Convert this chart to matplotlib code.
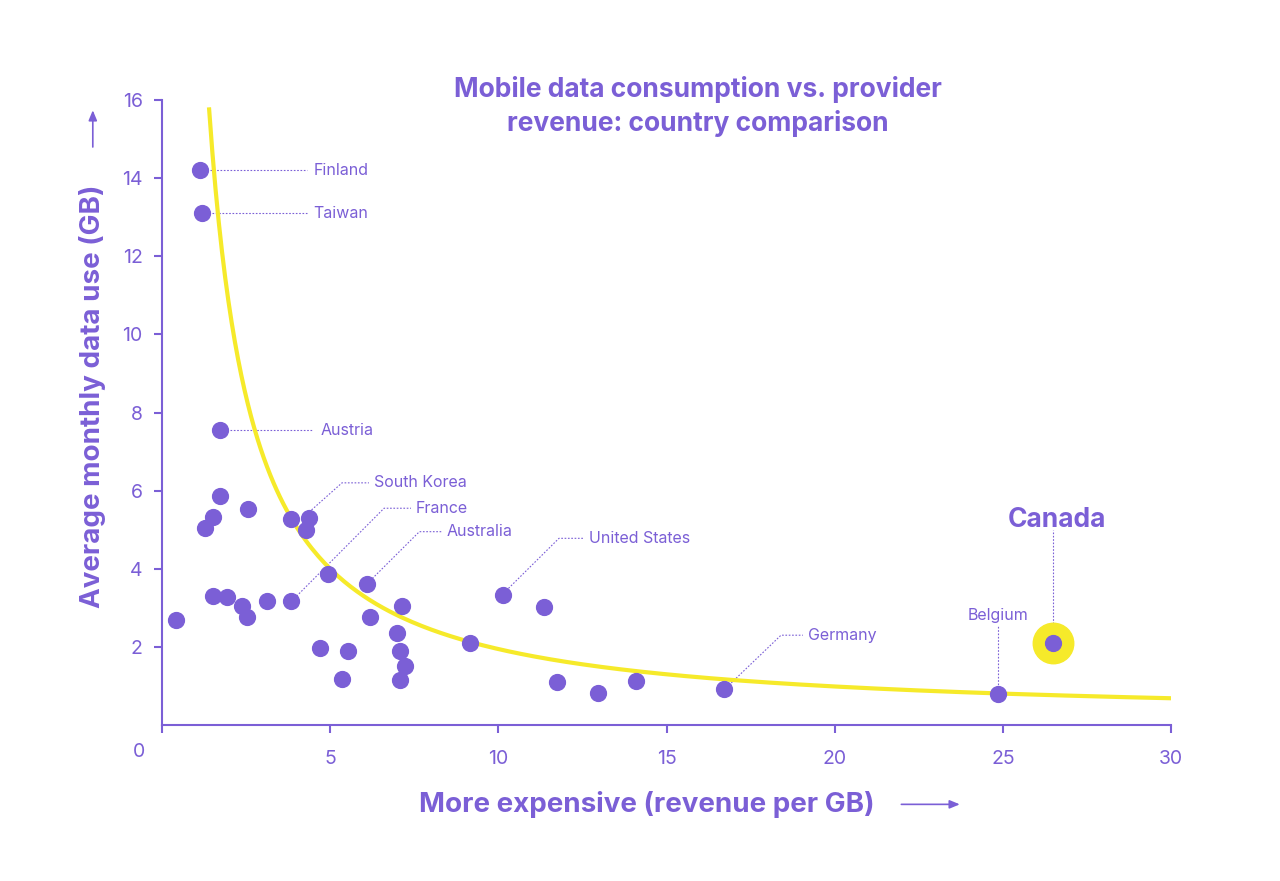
import matplotlib
matplotlib.use("Agg")
import matplotlib.pyplot as plt
import numpy as np

PURPLE = "#7b5fd6"
YELLOW = "#f6ea2a"
plt.rcParams["font.family"] = ["Inter", "DejaVu Sans"]

# revenue per GB vs average monthly GB
rev = [1.13, 1.19, 1.72, 0.42, 1.72, 1.52, 1.28, 2.56, 3.84, 4.37, 4.28, 4.94, 3.84,
       6.10, 1.52, 1.93, 3.12, 2.38, 2.53, 6.19, 7.14, 6.99, 7.08, 7.23, 7.08, 5.35,
       4.70, 5.53, 9.16, 10.14, 11.36, 11.75, 12.96, 14.09, 16.71, 24.86]
gb = [14.2, 13.1, 7.55, 2.69, 5.86, 5.33, 5.04, 5.53, 5.27, 5.30, 4.99, 3.87, 3.17,
      3.61, 3.30, 3.28, 3.17, 3.05, 2.76, 2.76, 3.05, 2.36, 1.89, 1.51, 1.15, 1.18,
      1.97, 1.89, 2.10, 3.33, 3.02, 1.10, 0.82, 1.13, 0.92, 0.79]
canada = (26.49, 2.10)

# trend line coefficients (power law + offset)
trend_a, trend_k, trend_c = 22.6, 1.1, 0.15

# label, point, elbow, text position
labels = [
    ("Finland", (1.13, 14.2), None, (4.5, 14.2)),
    ("Taiwan", (1.19, 13.1), None, (4.5, 13.1)),
    ("Austria", (1.72, 7.55), None, (4.7, 7.55)),
    ("South Korea", (4.37, 5.45), (5.35, 6.2), (6.3, 6.2)),
    ("France", (4.0, 3.3), (6.6, 5.55), (7.55, 5.55)),
    ("Australia", (6.25, 3.75), (7.65, 4.95), (8.45, 4.95)),
    ("United States", (10.3, 3.5), (11.8, 4.78), (12.7, 4.78)),
    ("Germany", (16.85, 1.02), (18.4, 2.3), (19.2, 2.3)),
]

fig = plt.figure(figsize=(12.8, 8.81), dpi=100)
ax = fig.add_axes([0.1266, 0.177, 0.7884, 0.7095])
ax.set_xlim(0, 30)
ax.set_ylim(0, 16)

xs = np.linspace(1.4, 30, 300)
ax.plot(xs, trend_a * xs ** -trend_k + trend_c, color=YELLOW, lw=3, zorder=2)
ax.scatter(rev, gb, s=130, color=PURPLE, zorder=3)
ax.scatter([canada[0]], [canada[1]], s=850, color=YELLOW, zorder=3)
ax.scatter([canada[0]], [canada[1]], s=130, color=PURPLE, zorder=4)

dot = dict(color=PURPLE, lw=0.8, ls=(0, (1.5, 1.5)), zorder=1)
for name, p, elbow, t in labels:
    if elbow is None:
        ax.plot([p[0], t[0] - 0.2], [p[1], t[1]], **dot)
    else:
        ax.plot([p[0], elbow[0], t[0] - 0.15], [p[1], elbow[1], t[1]], **dot)
    ax.text(t[0], t[1], name, color=PURPLE, fontsize=11.5, va="center", ha="left")

ax.plot([24.86, 24.86], [0.95, 2.55], **dot)
ax.text(24.86, 2.8, "Belgium", color=PURPLE, fontsize=11.5, ha="center", va="center")
ax.plot([26.49, 26.49], [2.5, 5.0], **dot)
ax.text(26.6, 5.25, "Canada", color=PURPLE, fontsize=19, weight="bold", ha="center", va="center")

for s in ["top", "right"]:
    ax.spines[s].set_visible(False)
for s in ["left", "bottom"]:
    ax.spines[s].set_color(PURPLE)
    ax.spines[s].set_linewidth(1.5)
ax.set_xticks(range(0, 31, 5))
ax.set_yticks(range(2, 17, 2))
ax.tick_params(colors=PURPLE, labelsize=14, length=6, width=1.5, pad=8)
ax.text(-0.7, -0.45, "0", color=PURPLE, fontsize=14, ha="center", va="top")
ax.tick_params(axis="x", pad=12)
ax.set_xticklabels(["", "5", "10", "15", "20", "25", "30"])

fig.text(0.545, 0.879, "Mobile data consumption vs. provider\nrevenue: country comparison",
         color=PURPLE, fontsize=19, weight="bold", ha="center", va="center", linespacing=1.3)
fig.text(0.505, 0.087, "More expensive (revenue per GB)", color=PURPLE, fontsize=20,
         weight="bold", ha="center", va="center")
fig.text(0.0725, 0.55, "Average monthly data use (GB)", color=PURPLE, fontsize=20,
         weight="bold", ha="center", va="center", rotation=90)
fig.patches.append(matplotlib.patches.FancyArrowPatch(
    (0.702, 0.087), (0.752, 0.087), transform=fig.transFigure,
    arrowstyle="-|>,head_length=6,head_width=2.5", color=PURPLE, lw=1.2))
fig.patches.append(matplotlib.patches.FancyArrowPatch(
    (0.0725, 0.83), (0.0725, 0.878), transform=fig.transFigure,
    arrowstyle="-|>,head_length=6,head_width=2.5", color=PURPLE, lw=1.2))

fig.savefig("out.png", dpi=100, facecolor="white")
